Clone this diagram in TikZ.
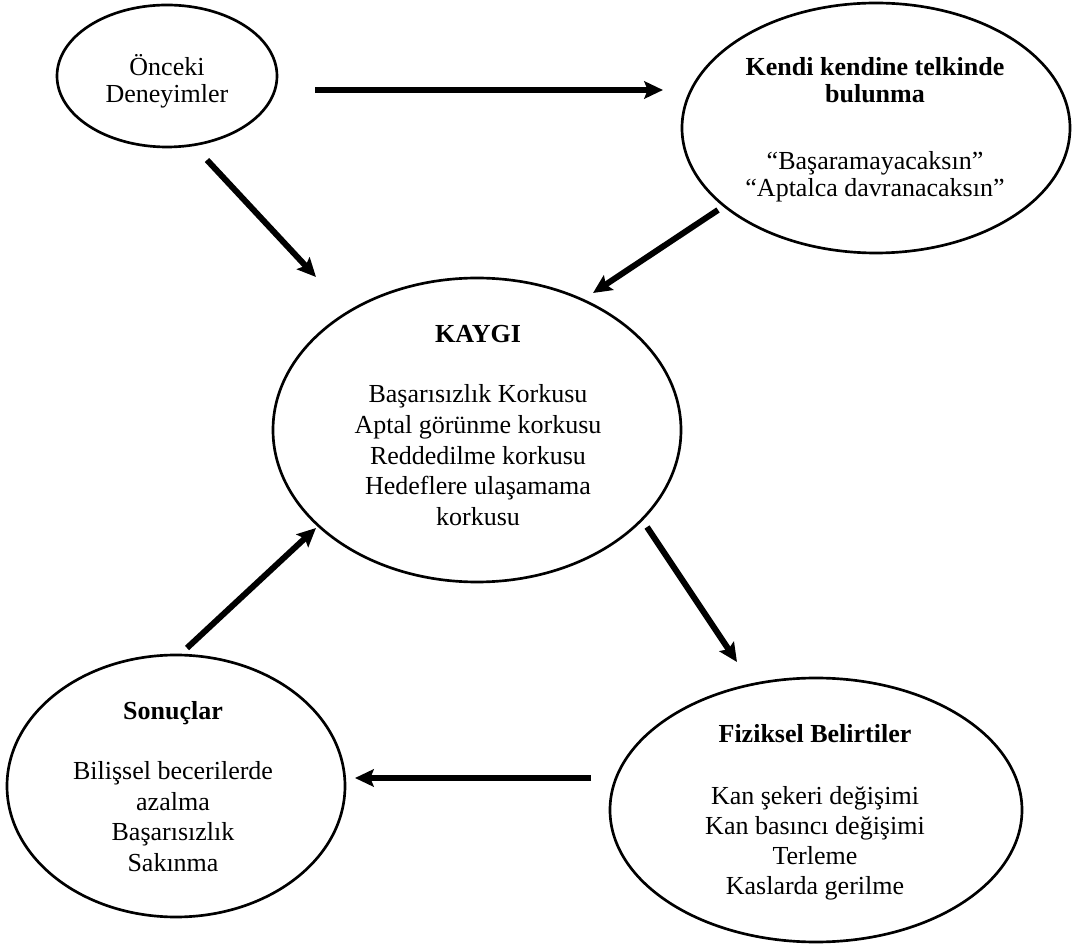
\documentclass[tikz,border=0pt]{standalone}
\usepackage{fontspec}
\setmainfont{Liberation Serif}
\usetikzlibrary{shapes.geometric,arrows.meta}
% centred block of lines; #1 = distance between baselines
\newcommand{\rowstack}[2]{\fontsize{19.5pt}{#1}\selectfont\begin{tabular}[t]{@{}c@{}}#2\end{tabular}}
\begin{document}
\begin{tikzpicture}[x=0.75pt,y=-0.75pt,
  bubble/.style={draw,ellipse,line width=2pt,inner sep=0pt},
  txt/.style={anchor=base,inner sep=0pt},
  flow/.style={line width=4.5pt,-{Stealth[length=14pt,width=13pt,inset=2.5pt]}}]
\useasboundingbox (0,0) rectangle (1072,944);

% ellipses
\node[bubble,minimum width=165pt,minimum height=106.5pt] (prev) at (167,76) {};
\node[bubble,minimum width=291pt,minimum height=187.5pt] (self) at (876,128) {};
\node[bubble,minimum width=306pt,minimum height=228pt] (anx) at (477,430) {};
\node[bubble,minimum width=253.5pt,minimum height=196.5pt] (res) at (176,786) {};
\node[bubble,minimum width=309pt,minimum height=198pt] (phys) at (816,810) {};

% texts
\node[txt] (prevtxt) at (167,76) {\rowstack{20.25pt}{Önceki\\Deneyimler}};

\node[txt] (selfttl) at (875,76) {\rowstack{20.25pt}{\bfseries Kendi kendine telkinde\\\bfseries bulunma}};
\node[txt] (selftxt) at (875,170) {\rowstack{20.25pt}{“Başaramayacaksın”\\“Aptalca davranacaksın”}};

\node[txt] (anxttl) at (478,343) {\rowstack{23pt}{\bfseries KAYGI}};
\node[txt] (anxtxt) at (478,403) {\rowstack{23pt}{Başarısızlık Korkusu\\Aptal görünme korkusu\\Reddedilme korkusu\\Hedeflere ulaşamama\\korkusu}};

\node[txt] (physttl) at (815,743) {\rowstack{22.5pt}{\bfseries Fiziksel Belirtiler}};
\node[txt] (phystxt) at (815,805) {\rowstack{22.5pt}{Kan şekeri değişimi\\Kan basıncı değişimi\\Terleme\\Kaslarda gerilme}};

\node[txt] (resttl) at (173,720) {\rowstack{22.8pt}{\bfseries Sonuçlar}};
\node[txt] (restxt) at (173,780) {\rowstack{22.8pt}{Bilişsel becerilerde\\azalma\\Başarısızlık\\Sakınma}};

% arrow ends
\coordinate (p1) at (315,90);   \coordinate (s1) at (663,90);
\coordinate (p2) at (207,160);  \coordinate (a2) at (316,277);
\coordinate (s3) at (718,210);  \coordinate (a3) at (593,293);
\coordinate (a4) at (647,527);  \coordinate (f4) at (737,662);
\coordinate (f5) at (591,778);  \coordinate (r5) at (355,778);
\coordinate (r6) at (187,648);  \coordinate (a6) at (316,528);

% arrows
\draw[flow] (p1) -- (s1);
\draw[flow] (p2) -- (a2);
\draw[flow] (s3) -- (a3);
\draw[flow] (a4) -- (f4);
\draw[flow] (f5) -- (r5);
\draw[flow] (r6) -- (a6);
\end{tikzpicture}
\end{document}
